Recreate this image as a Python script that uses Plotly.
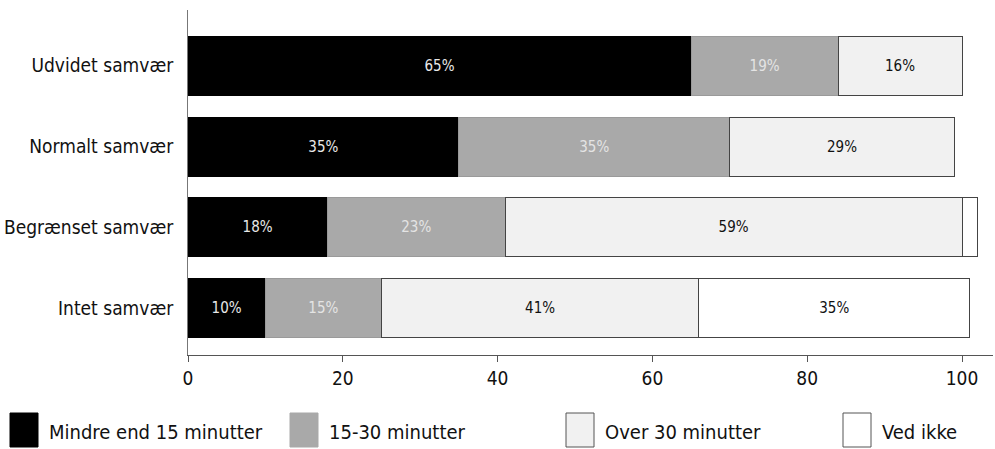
import plotly.graph_objects as go

categories = ["Intet samvær", "Begrænset samvær", "Normalt samvær", "Udvidet samvær"]
series_names = ["Mindre end 15 minutter", "15-30 minutter", "Over 30 minutter", "Ved ikke"]
mindre_15 = [10, 18, 35, 65]
min_15_30 = [15, 23, 35, 19]
over_30 = [41, 59, 29, 16]
ved_ikke = [35, 2, 0, 0]
labels_mindre_15 = ["10%", "18%", "35%", "65%"]
labels_15_30 = ["15%", "23%", "35%", "19%"]
labels_over_30 = ["41%", "59%", "29%", "16%"]
labels_ved_ikke = ["35%", "", "", ""]
x_ticks = [0, 20, 40, 60, 80, 100]

FONT = "DejaVu Sans Condensed"
colors = ["#000000", "#a9a9a9", "#f1f1f1", "#ffffff"]
text_colors = ["#e8e8e8", "#e4e4e4", "#111111", "#111111"]
line_colors = ["#000000", "#9a9a9a", "#444444", "#444444"]

fig = go.Figure()
all_vals = [mindre_15, min_15_30, over_30, ved_ikke]
all_labels = [labels_mindre_15, labels_15_30, labels_over_30, labels_ved_ikke]
for name, vals, labs, c, tc, lc in zip(series_names, all_vals, all_labels, colors, text_colors, line_colors):
    fig.add_trace(go.Bar(
        y=categories, x=vals, name=name, orientation="h",
        marker=dict(color=c, line=dict(color=lc, width=1)),
        text=labs, textposition="inside", insidetextanchor="middle",
        textangle=0, constraintext="none",
        textfont=dict(family=FONT, size=15, color=tc),
        width=0.73, showlegend=False,
    ))

# legend drawn as boxes + text below the plot
L, R, T, B = 188, 2, 10, 94
W, H = 995, 449
pw, ph = W - L - R, H - T - B
def px_x(px):
    return (px - L) / pw
def px_y(py):
    return (H - B - py) / ph

leg_x = [10, 290, 566, 843]
shapes = []
annotations = []
for i, name in enumerate(series_names):
    x0 = leg_x[i]
    shapes.append(dict(type="rect", xref="paper", yref="paper",
                       x0=px_x(x0), x1=px_x(x0 + 28), y0=px_y(447), y1=px_y(413),
                       fillcolor=colors[i], line=dict(color="#555555" if i >= 2 else colors[i], width=1)))
    annotations.append(dict(xref="paper", yref="paper", x=px_x(x0 + 37), y=px_y(432),
                            text=name, showarrow=False, xanchor="left", yanchor="middle",
                            font=dict(family=FONT, size=20, color="#111111")))

fig.update_layout(
    width=W, height=H,
    margin=dict(l=L, r=R, t=T, b=B, autoexpand=False),
    barmode="stack",
    plot_bgcolor="white", paper_bgcolor="white",
    shapes=shapes, annotations=annotations,
    xaxis=dict(range=[0, 104], tickvals=x_ticks, showgrid=False, zeroline=False,
               automargin=False,
               showline=True, linecolor="#555555", linewidth=1,
               ticks="outside", ticklen=6, tickcolor="#555555",
               tickfont=dict(family=FONT, size=19, color="#111111")),
    yaxis=dict(range=[-0.58, 3.69], showgrid=False, zeroline=False,
               automargin=False,
               showline=True, linecolor="#777777", linewidth=1, ticks="",
               ticklabelstandoff=10,
               tickfont=dict(family=FONT, size=19, color="#111111")),
    bargap=0.27,
)

fig.write_html("out.html", config={"displayModeBar": False},
               post_script="document.body.style.margin='0';document.body.style.overflow='hidden';")
